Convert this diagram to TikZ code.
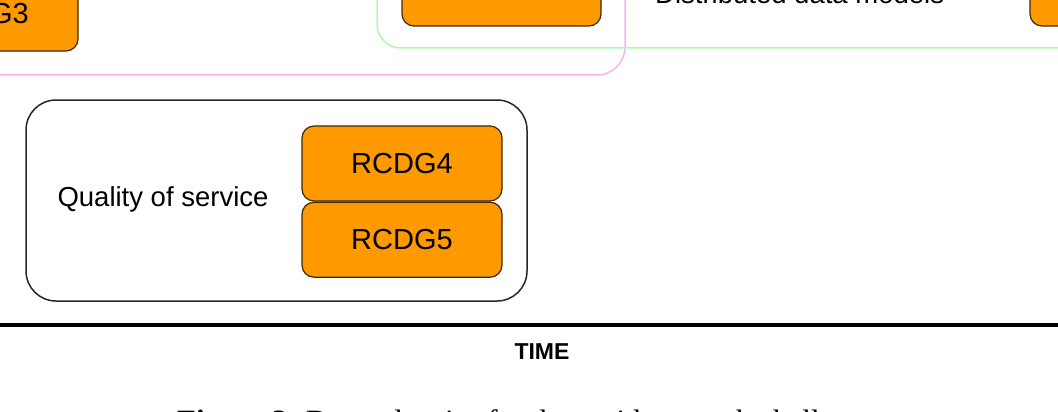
\documentclass[tikz,border=0pt]{standalone}
\usepackage{xcolor}
\usepackage{fontspec}
\setmainfont{Liberation Sans}
\newfontfamily\captionfont{Liberation Serif}
\usetikzlibrary{positioning}

\definecolor{rcdgorange}{RGB}{255,153,0}
\definecolor{rcdgborder}{RGB}{60,40,10}
\definecolor{grouppink}{RGB}{255,175,250}
\definecolor{groupgreen}{RGB}{175,250,175}

\tikzset{
	rcdg/.style={draw=rcdgborder, fill=rcdgorange, rounded corners=12pt, line width=1.2pt,
		minimum width=200pt, minimum height=75pt, inner sep=0pt,
		font=\fontsize{29}{32}\selectfont},
	challenge/.style={draw=black!85, rounded corners=30pt, line width=1.5pt,
		minimum width=501pt, minimum height=201pt},
	area/.style={font=\fontsize{27.5}{31}\selectfont},
	group/.style={rounded corners=28pt, line width=1.5pt}
}

\begin{document}
\begin{tikzpicture}[x=1pt, y=-1pt]
				% the picture is cut at its frame
				\clip (0,0) rectangle (1058,412);
				
				\draw[group, draw=grouppink] (-80,-80) rectangle (625,75);
				\draw[group, draw=groupgreen, rounded corners=24pt] (377,-80) rectangle (1120,48);
				
				\node[rcdg] (rcdg3) at (-22,13.5) {RCDG3};
				\node[rcdg, minimum width=199pt] (rcdg1) at (501.5,-11.5) {RCDG1};
				\node[rcdg] (rcdg6) at (1130,-11.5) {RCDG6};
				\node[area, anchor=base west, inner sep=0pt] (distributed) at (655,4) {Distributed data models};
				
				\node[challenge] (qos) at (276.5,200.5) {};
				\node[rcdg] (rcdg4) at (402,163.5) {RCDG4};
				\node[rcdg, below=0pt of rcdg4] (rcdg5) {RCDG5};
				\node[area] (qosLabel) at (163,199) {Quality of service};
				
				\coordinate (timeStart) at (-5,325);
				\coordinate (timeEnd) at (1063,325);
				\draw[line width=4pt] (timeStart) -- (timeEnd);
				\node[font=\bfseries\fontsize{23}{26}\selectfont] (time) at (542,352) {TIME};
				
				\node[anchor=base west, inner sep=0pt, font=\captionfont\fontsize{31}{36}\selectfont] (caption) at (177,431)
				{\textbf{Figure 2.} Dependencies for data grid research challenges};
				
			\end{tikzpicture}
\end{document}
